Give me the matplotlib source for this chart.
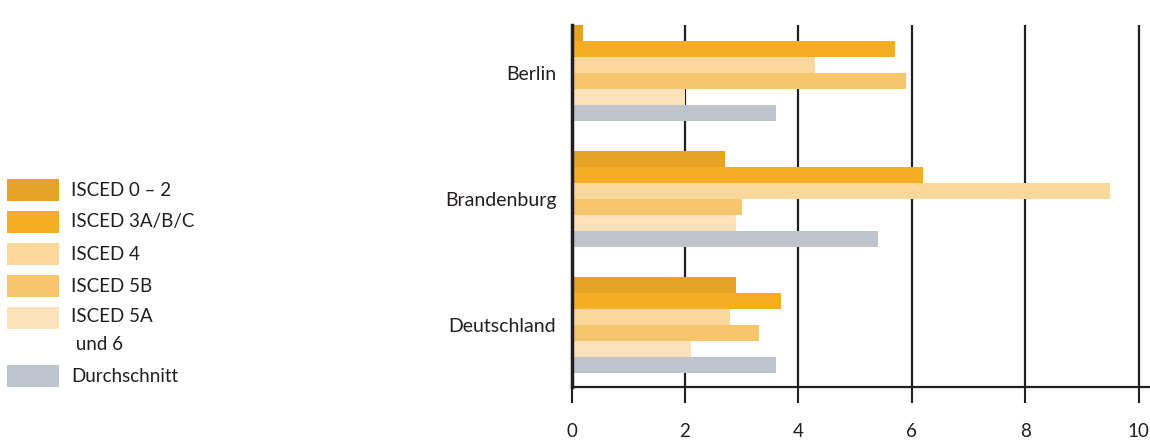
import matplotlib.pyplot as plt
import numpy as np
from matplotlib.patches import Rectangle

# data
regions = ["Berlin", "Brandenburg", "Deutschland"]
series = ["ISCED 0 – 2", "ISCED 3A/B/C", "ISCED 4", "ISCED 5B", "ISCED 5A\n und 6", "Durchschnitt"]
values = [
    [0.2, 2.7, 2.9],   # ISCED 0-2
    [5.7, 6.2, 3.7],   # ISCED 3A/B/C
    [4.3, 9.5, 2.8],   # ISCED 4
    [5.9, 3.0, 3.3],   # ISCED 5B
    [2.0, 2.9, 2.1],   # ISCED 5A und 6
    [3.6, 5.4, 3.6],   # Durchschnitt
]
colors = ["#E5A224", "#F5AD25", "#FAD89C", "#F7C56B", "#FBE2BA", "#BFC3CB"]
xticks = [0, 2, 4, 6, 8, 10]

if __name__ == "__main__":
    plt.rcParams['font.family'] = ['Lato', 'DejaVu Sans']
    dark = "#231F20"

    fig = plt.figure(figsize=(11.5, 4.42), dpi=100)
    ax = fig.add_axes([0.497, 0.124, 0.503, 0.819])

    y = np.arange(len(regions))
    h = 0.127
    for i, (vals, c) in enumerate(zip(values, colors)):
        ax.barh(y + (i - 2.5) * h, vals, height=h, color=c, zorder=3)

    ax.set_xlim(0, 10.2)
    ax.set_ylim(2.492, -0.381)
    ax.set_xticks(xticks)
    ax.set_xticklabels([str(t) for t in xticks], fontsize=13.5, color=dark)
    ax.set_yticks(y)
    ax.set_yticklabels(regions, fontsize=14, color=dark)
    ax.tick_params(axis='y', length=0, pad=11)
    ax.tick_params(axis='x', length=11.5, width=1.5, color=dark, pad=14)

    # vertical grid lines
    ax.grid(axis='x', color=dark, linewidth=1.6, zorder=1)
    ax.set_axisbelow(True)

    for s in ["top", "right"]:
        ax.spines[s].set_visible(False)
    ax.spines["left"].set_linewidth(2.5)
    ax.spines["left"].set_color(dark)
    ax.spines["left"].set_zorder(4)
    ax.spines["bottom"].set_linewidth(1.6)
    ax.spines["bottom"].set_color(dark)

    # legend drawn by hand on the figure
    W, H = 1150.0, 442.0
    ycent = [190, 222, 254, 286, 318, 376]
    for lab, c, yc in zip(series, colors, ycent):
        fig.add_artist(Rectangle((7 / W, 1 - (yc + 11) / H), 52 / W, 22 / H,
                                 transform=fig.transFigure, color=c, lw=0))
        t = fig.text(71 / W, 1 - yc / H, lab, fontsize=13.5, color=dark,
                     va='center', linespacing=1.75)
        if '\n' in lab:
            # two-line label: anchor its first line at the patch
            t.set_va('top')
            t.set_y(1 - 308 / H)

    fig.savefig("out.png", dpi=100)
